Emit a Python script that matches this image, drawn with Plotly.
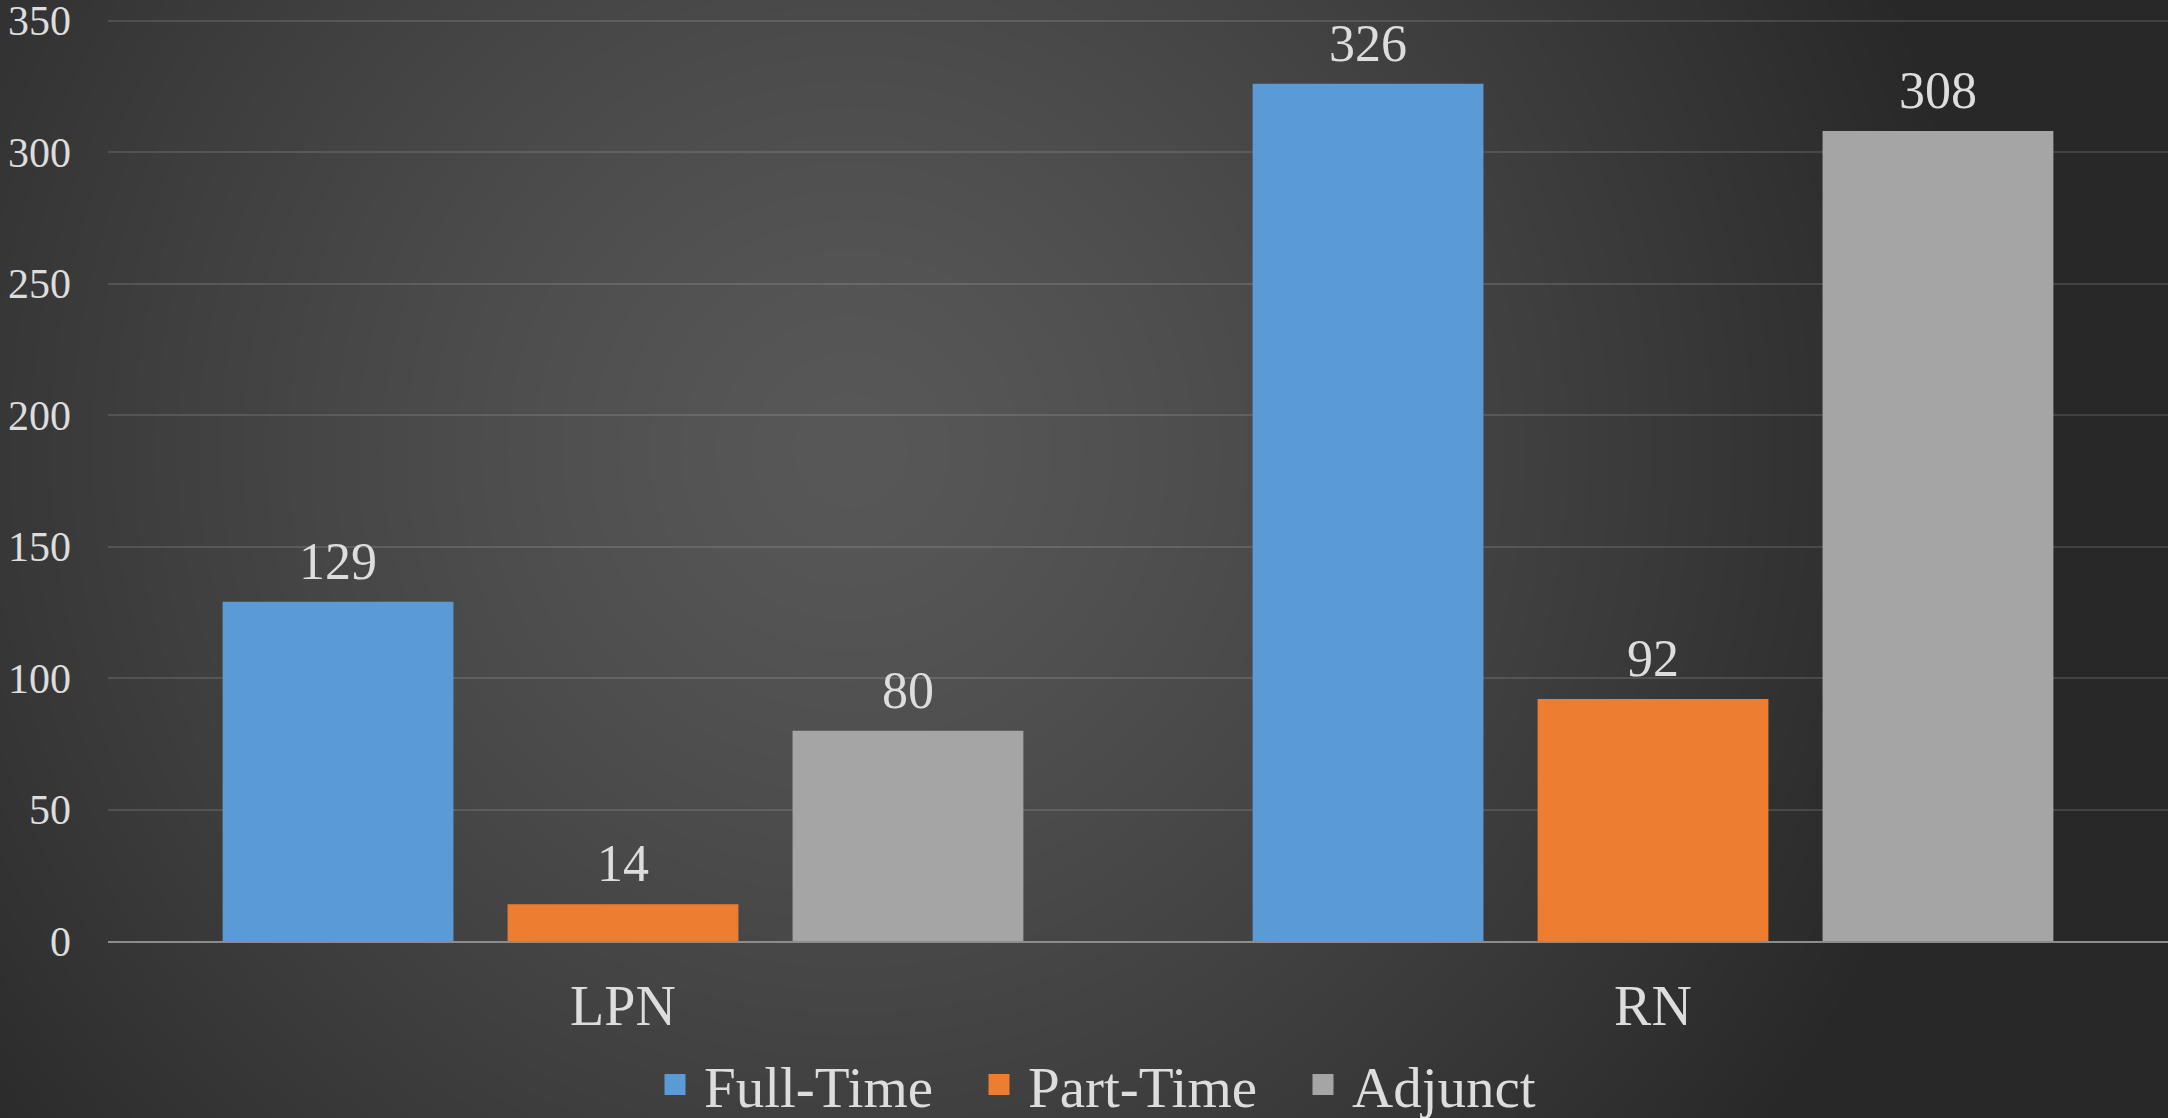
import base64
import struct
import zlib

import numpy as np
import plotly.graph_objects as go

# ---------------- data ----------------
categories = ["LPN", "RN"]
series_names = ["Full-Time", "Part-Time", "Adjunct"]
full_time = [129, 326]
part_time = [14, 92]
adjunct = [80, 308]
y_ticks = [0, 50, 100, 150, 200, 250, 300, 350]

# ---------------- styling ----------------
W, H = 2168, 1118
M_L, M_R, M_T, M_B = 108, 0, 18, 177
colors = ["#5b9bd5", "#ed7d31", "#a5a5a5"]
text_color = "#dddddd"
font_family = "Liberation Serif, Times New Roman, serif"
BARGAP = 0.17


def radial_background_png(w, h):
    """Dark radial gradient background as a PNG data URI."""
    ys, xs = np.mgrid[0:h, 0:w].astype(float)
    sx, sy = W / w, H / h
    dx = (xs * sx - 850.0) / 1150.0
    dy = (ys * sy - 450.0) / 1150.0
    r = np.clip(np.sqrt(dx * dx + dy * dy), 0, 1)
    v = 88.0 - 48.0 * r ** 1.3
    v = np.clip(v, 0, 255).astype(np.uint8)
    img = np.stack([v, v, v], axis=-1)
    raw = b"".join(b"\x00" + img[i].tobytes() for i in range(h))

    def chunk(tag, data):
        c = struct.pack(">I", len(data)) + tag + data
        return c + struct.pack(">I", zlib.crc32(tag + data) & 0xFFFFFFFF)

    png = b"\x89PNG\r\n\x1a\n"
    png += chunk(b"IHDR", struct.pack(">IIBBBBB", w, h, 8, 2, 0, 0, 0))
    png += chunk(b"IDAT", zlib.compress(raw, 9))
    png += chunk(b"IEND", b"")
    return "data:image/png;base64," + base64.b64encode(png).decode()


fig = go.Figure()
series_values = [full_time, part_time, adjunct]

# bars
for name, vals, col in zip(series_names, series_values, colors):
    fig.add_trace(
        go.Bar(
            name=name,
            x=categories,
            y=vals,
            marker=dict(color=col, line=dict(width=0)),
            offsetgroup=name,
            legendgroup=name,
            showlegend=False,
        )
    )

# value labels (grouped scatter text aligned with the bars)
for name, vals in zip(series_names, series_values):
    fig.add_trace(
        go.Scatter(
            name=name,
            x=categories,
            y=vals,
            mode="markers+text",
            text=[str(v) for v in vals],
            textposition="top center",
            textfont=dict(family=font_family, size=52, color=text_color),
            marker=dict(size=14, color="rgba(0,0,0,0)"),
            offsetgroup=name,
            legendgroup=name,
            showlegend=False,
            cliponaxis=False,
            hoverinfo="skip",
        )
    )

# legend entries with larger square swatches (no data drawn)
for name, col in zip(series_names, colors):
    fig.add_trace(
        go.Scatter(
            name=name,
            x=[None],
            y=[None],
            mode="markers",
            marker=dict(symbol="square", size=16, color=col,
                        line=dict(width=5, color=col)),
            offsetgroup=name,
            legendgroup=name,
            showlegend=True,
            hoverinfo="skip",
        )
    )

plot_w = W - M_L - M_R
plot_h = H - M_T - M_B

fig.update_layout(
    width=W,
    height=H,
    margin=dict(l=M_L, r=M_R, t=M_T, b=M_B, pad=0, autoexpand=False),
    paper_bgcolor="#333333",
    plot_bgcolor="rgba(0,0,0,0)",
    barmode="group",
    bargap=BARGAP,
    bargroupgap=0.19,
    scattermode="group",
    scattergap=BARGAP,
    font=dict(family=font_family, color=text_color),
    showlegend=True,
    legend=dict(
        orientation="h",
        x=(646 - M_L) / plot_w,
        xanchor="left",
        yref="paper",
        y=-100 / plot_h,
        yanchor="top",
        font=dict(family=font_family, size=57, color=text_color),
        bgcolor="rgba(0,0,0,0)",
        itemwidth=48,
        entrywidth=261,
        traceorder="normal",
    ),
    images=[
        dict(
            source=radial_background_png(W // 2, H // 2),
            xref="paper",
            yref="paper",
            x=-M_L / plot_w,
            y=1 + M_T / plot_h,
            sizex=W / plot_w,
            sizey=H / plot_h,
            xanchor="left",
            yanchor="top",
            sizing="stretch",
            layer="below",
        )
    ],
)

fig.update_xaxes(
    showgrid=False,
    showline=True,
    linecolor="#8c8c8c",
    linewidth=2,
    ticks="",
    tickfont=dict(family=font_family, size=56, color=text_color),
    ticklabelstandoff=15,
)
fig.update_yaxes(
    range=[0, 351],
    tickvals=y_ticks,
    showgrid=True,
    gridcolor="rgba(255,255,255,0.12)",
    gridwidth=2,
    zeroline=False,
    showline=False,
    ticks="",
    tickfont=dict(family=font_family, size=42, color=text_color),
    ticklabelstandoff=36,
    ticklabeloverflow="allow",
)

fig.write_html("out.html")
